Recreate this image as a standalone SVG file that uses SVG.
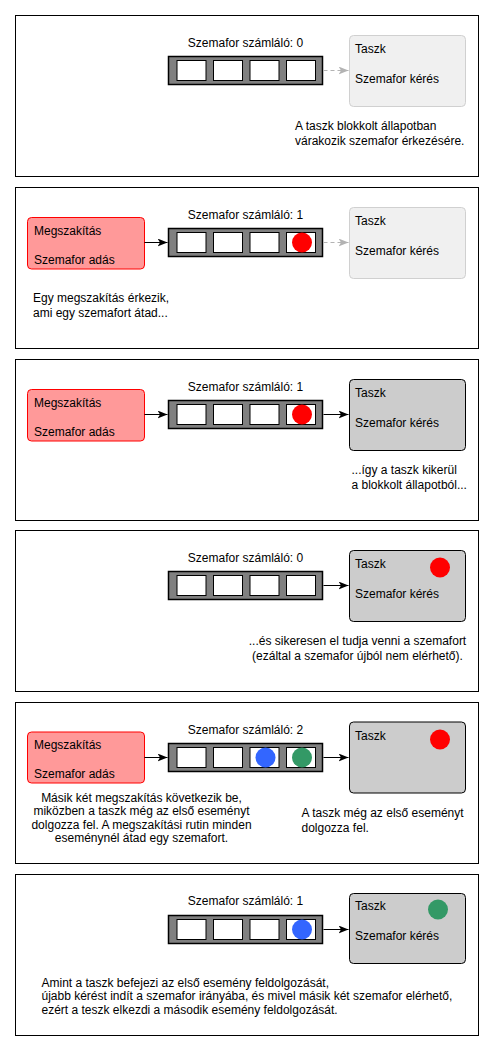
<svg xmlns="http://www.w3.org/2000/svg" width="494" height="1050" viewBox="0 0 494 1050">
<style>
text{font-family:"Liberation Sans",Arial,sans-serif;font-size:12px;fill:#000}
.frame{fill:#fff;stroke:#000;stroke-width:1}
.sem{fill:#808080;stroke:#000;stroke-width:1.5}
.cell{fill:#fff;stroke:#000;stroke-width:1}
.task0{fill:#f0f0f0;stroke:#d0d0d0;stroke-width:1}
.task1{fill:#cccccc;stroke:#000;stroke-width:1}
.irq{fill:#ff9999;stroke:#ff0000;stroke-width:1}
.solid{stroke:#000;stroke-width:1;fill:none}
.dash{stroke:#b3b3b3;stroke-width:1;stroke-dasharray:4 3;fill:none}
.mid{text-anchor:middle}
</style>
<defs>
<marker id="ah" viewBox="0 0 10 8" refX="10" refY="4" markerWidth="10" markerHeight="8" markerUnits="userSpaceOnUse" orient="auto"><path d="M0,0 L10,4 L0,8 L2.5,4 Z" fill="#000"/></marker>
<marker id="ahg" viewBox="0 0 10 8" refX="10" refY="4" markerWidth="10" markerHeight="8" markerUnits="userSpaceOnUse" orient="auto"><path d="M0,0 L10,4 L0,8 L2.5,4 Z" fill="#b3b3b3"/></marker>
<g id="semaphore">
<rect class="sem" x="168.5" y="56.5" width="154" height="28"/>
<rect class="cell" x="177" y="60.5" width="29" height="20"/>
<rect class="cell" x="213.5" y="60.5" width="29" height="20"/>
<rect class="cell" x="250" y="60.5" width="29" height="20"/>
<rect class="cell" x="286.5" y="60.5" width="29" height="20"/>
</g>
</defs>

<g id="panel1">
<rect class="frame" x="15.5" y="15.5" width="463" height="161"/>
<g id="sem1"><use href="#semaphore"/><text class="mid" x="245.5" y="47">Szemafor számláló: 0</text></g>
<g id="task1"><rect class="task0" x="349.5" y="35.5" width="116" height="71" rx="4"/><text x="355" y="52.5">Taszk</text><text x="355" y="82.5">Szemafor kérés</text></g>
<text x="295" y="129.5">A taszk blokkolt állapotban</text>
<text x="295" y="145">várakozik szemafor érkezésére.</text>
</g>

<g id="panel2" transform="translate(0,172)">
<rect class="frame" x="15.5" y="15.5" width="463" height="161"/>
<g id="irq2"><rect class="irq" x="27.5" y="45.5" width="117" height="51.5" rx="4"/><text x="34" y="62.5">Megszakítás</text><text x="34" y="91.5">Szemafor adás</text></g>
<g id="sem2"><use href="#semaphore"/><circle cx="302" cy="70.5" r="10" fill="#ff0000"/><text class="mid" x="245.5" y="47">Szemafor számláló: 1</text></g>
<g id="task2"><rect class="task0" x="349.5" y="35.5" width="116" height="71" rx="4"/><text x="355" y="52.5">Taszk</text><text x="355" y="82.5">Szemafor kérés</text></g>
<text x="33" y="129.5">Egy megszakítás érkezik,</text>
<text x="33" y="145">ami egy szemafort átad...</text>
</g>

<g id="panel3" transform="translate(0,344)">
<rect class="frame" x="15.5" y="15.5" width="463" height="161"/>
<g id="irq3"><rect class="irq" x="27.5" y="45.5" width="117" height="51.5" rx="4"/><text x="34" y="62.5">Megszakítás</text><text x="34" y="91.5">Szemafor adás</text></g>
<g id="sem3"><use href="#semaphore"/><circle cx="302" cy="70.5" r="10" fill="#ff0000"/><text class="mid" x="245.5" y="47">Szemafor számláló: 1</text></g>
<g id="task3"><rect class="task1" x="349.5" y="35.5" width="116" height="71" rx="4"/><text x="355" y="52.5">Taszk</text><text x="355" y="82.5">Szemafor kérés</text></g>
<text x="351.5" y="129.5">...így a taszk kikerül</text>
<text x="351.5" y="145">a blokkolt állapotból...</text>
</g>

<g id="panel4" transform="translate(0,515)">
<rect class="frame" x="15.5" y="15.5" width="463" height="161"/>
<g id="sem4"><use href="#semaphore"/><text class="mid" x="245.5" y="47">Szemafor számláló: 0</text></g>
<g id="task4"><rect class="task1" x="349.5" y="35.5" width="116" height="71" rx="4"/><text x="355" y="52.5">Taszk</text><text x="355" y="82.5">Szemafor kérés</text><circle cx="440" cy="52.5" r="10" fill="#ff0000"/></g>
<text class="mid" x="357.5" y="129.5">...és sikeresen el tudja venni a szemafort</text>
<text class="mid" x="357.5" y="145">(ezáltal a szemafor újból nem elérhető).</text>
</g>

<g id="panel5" transform="translate(0,687)">
<rect class="frame" x="15.5" y="15.5" width="463" height="161"/>
<g id="irq5"><rect class="irq" x="27.5" y="45" width="117" height="51" rx="4"/><text x="34" y="62">Megszakítás</text><text x="34" y="91">Szemafor adás</text></g>
<g id="sem5"><use href="#semaphore"/><circle cx="265.5" cy="70.5" r="10" fill="#3366ff"/><circle cx="302" cy="70.5" r="10" fill="#339966"/><text class="mid" x="245.5" y="47">Szemafor számláló: 2</text></g>
<g id="task5"><rect class="task1" x="349.5" y="35" width="116" height="71" rx="4"/><text x="355" y="52.5">Taszk</text><circle cx="440" cy="52.5" r="10" fill="#ff0000"/></g>
<text class="mid" x="141.5" y="114.5">Másik két megszakítás következik be,</text>
<text class="mid" x="141.5" y="128">miközben a taszk még az első eseményt</text>
<text class="mid" x="141.5" y="141.5">dolgozza fel. A megszakítási rutin minden</text>
<text class="mid" x="141.5" y="155">eseménynél átad egy szemafort.</text>
<text x="301.5" y="129.5">A taszk még az első eseményt</text>
<text x="301.5" y="145">dolgozza fel.</text>
</g>

<g id="panel6" transform="translate(0,859)">
<rect class="frame" x="15.5" y="15.5" width="463" height="161"/>
<g id="sem6"><use href="#semaphore"/><circle cx="302" cy="70.5" r="10" fill="#3366ff"/><text class="mid" x="245.5" y="45.5">Szemafor számláló: 1</text></g>
<g id="task6"><rect class="task1" x="349.5" y="34.5" width="116" height="70" rx="4"/><text x="355" y="51">Taszk</text><text x="355" y="81">Szemafor kérés</text><circle cx="438" cy="50.5" r="10" fill="#339966"/></g>
<text x="41.5" y="127.5">Amint a taszk befejezi az első esemény feldolgozását,</text>
<text x="41.5" y="141">újabb kérést indít a szemafor irányába, és mivel másik két szemafor elérhető,</text>
<text x="41.5" y="154.5">ezért a teszk elkezdi a második esemény feldolgozását.</text>
</g>

<g id="connectors">
<line class="dash" x1="323.5" y1="70.5" x2="348.5" y2="70.5" marker-end="url(#ahg)"/>
<line class="solid" x1="144.5" y1="242.5" x2="167.5" y2="242.5" marker-end="url(#ah)"/>
<line class="dash" x1="323.5" y1="242.5" x2="348.5" y2="242.5" marker-end="url(#ahg)"/>
<line class="solid" x1="144.5" y1="414.5" x2="167.5" y2="414.5" marker-end="url(#ah)"/>
<line class="solid" x1="323.5" y1="414.5" x2="348.5" y2="414.5" marker-end="url(#ah)"/>
<line class="solid" x1="323.5" y1="585.5" x2="348.5" y2="585.5" marker-end="url(#ah)"/>
<line class="solid" x1="144.5" y1="757.5" x2="167.5" y2="757.5" marker-end="url(#ah)"/>
<line class="solid" x1="323.5" y1="757.5" x2="348.5" y2="757.5" marker-end="url(#ah)"/>
<line class="solid" x1="323.5" y1="929.5" x2="348.5" y2="929.5" marker-end="url(#ah)"/>
</g>
</svg>
